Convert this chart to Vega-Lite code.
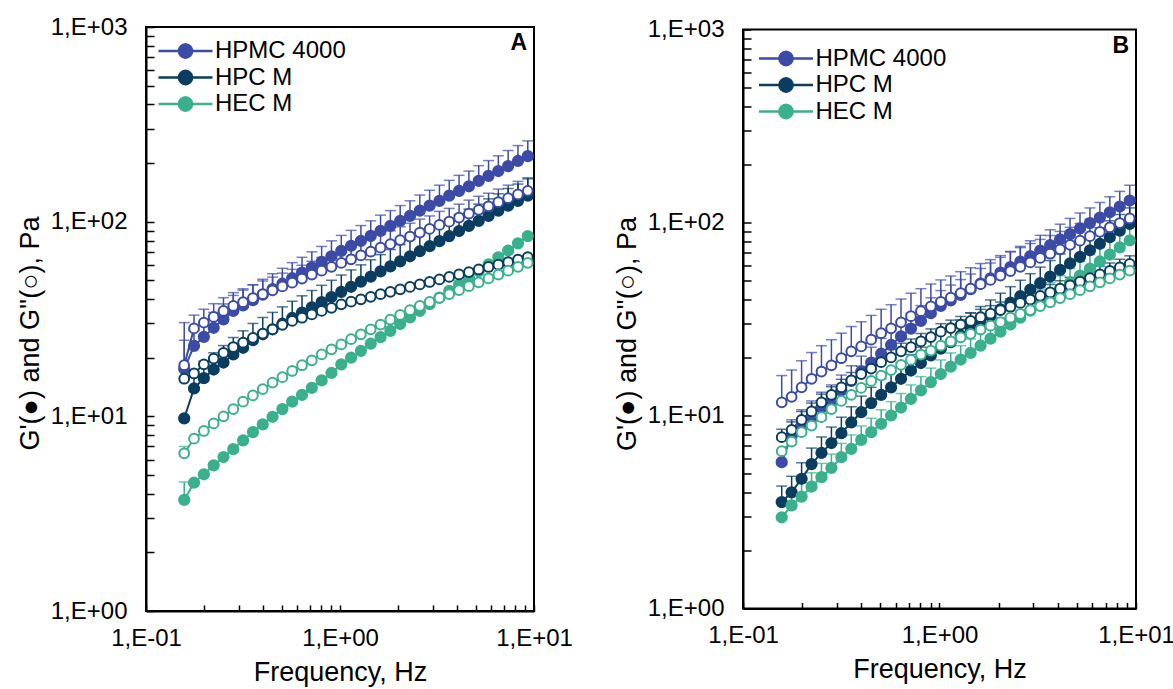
{
"$schema":"https://vega.github.io/schema/vega-lite/v6.json",
"background":"white",
"padding":{"left":15,"top":14,"right":2,"bottom":2},
"bounds":"flush",
"center":true,
"spacing":209,
"config":{"font":"Liberation Sans","view":{"stroke":"black","strokeWidth":2},
"axis":{"domainColor":"black","domainWidth":2,"tickColor":"black","tickWidth":1.5,"labelColor":"black","titleColor":"black","grid":false,"labelFontSize":24,"titleFontSize":27,"titleFontWeight":"normal","labelFont":"Liberation Sans","titleFont":"Liberation Sans"},
"title":{"font":"Liberation Sans"}},
"datasets":{"d":[
{"p":"A","s":"HPMC 4000","g":"f","f":0.1574,"v":17.5,"e":24.6},
{"p":"A","s":"HPMC 4000","g":"f","f":0.1768,"v":23.0,"e":27.6},
{"p":"A","s":"HPMC 4000","g":"f","f":0.1987,"v":25.6,"e":30.7},
{"p":"A","s":"HPMC 4000","g":"f","f":0.2233,"v":28.5,"e":34.2},
{"p":"A","s":"HPMC 4000","g":"f","f":0.2508,"v":31.5,"e":37.8},
{"p":"A","s":"HPMC 4000","g":"f","f":0.2818,"v":34.8,"e":41.8},
{"p":"A","s":"HPMC 4000","g":"f","f":0.3166,"v":37.1,"e":44.5},
{"p":"A","s":"HPMC 4000","g":"f","f":0.3557,"v":39.5,"e":47.4},
{"p":"A","s":"HPMC 4000","g":"f","f":0.3997,"v":42.2,"e":50.6},
{"p":"A","s":"HPMC 4000","g":"f","f":0.4491,"v":45.0,"e":54.0},
{"p":"A","s":"HPMC 4000","g":"f","f":0.5047,"v":48.0,"e":57.6},
{"p":"A","s":"HPMC 4000","g":"f","f":0.567,"v":51.3,"e":61.6},
{"p":"A","s":"HPMC 4000","g":"f","f":0.6371,"v":54.7,"e":65.6},
{"p":"A","s":"HPMC 4000","g":"f","f":0.7158,"v":58.3,"e":70.0},
{"p":"A","s":"HPMC 4000","g":"f","f":0.8043,"v":62.2,"e":74.6},
{"p":"A","s":"HPMC 4000","g":"f","f":0.9036,"v":66.4,"e":79.7},
{"p":"A","s":"HPMC 4000","g":"f","f":1.0153,"v":70.8,"e":85.0},
{"p":"A","s":"HPMC 4000","g":"f","f":1.1408,"v":75.2,"e":90.2},
{"p":"A","s":"HPMC 4000","g":"f","f":1.2817,"v":79.6,"e":95.5},
{"p":"A","s":"HPMC 4000","g":"f","f":1.4401,"v":84.5,"e":101},
{"p":"A","s":"HPMC 4000","g":"f","f":1.6181,"v":89.7,"e":108},
{"p":"A","s":"HPMC 4000","g":"f","f":1.818,"v":95.1,"e":114},
{"p":"A","s":"HPMC 4000","g":"f","f":2.0427,"v":101,"e":121},
{"p":"A","s":"HPMC 4000","g":"f","f":2.2951,"v":107,"e":128},
{"p":"A","s":"HPMC 4000","g":"f","f":2.5787,"v":114,"e":137},
{"p":"A","s":"HPMC 4000","g":"f","f":2.8973,"v":121,"e":145},
{"p":"A","s":"HPMC 4000","g":"f","f":3.2554,"v":128,"e":154},
{"p":"A","s":"HPMC 4000","g":"f","f":3.6576,"v":136,"e":163},
{"p":"A","s":"HPMC 4000","g":"f","f":4.1096,"v":144,"e":173},
{"p":"A","s":"HPMC 4000","g":"f","f":4.6174,"v":152,"e":182},
{"p":"A","s":"HPMC 4000","g":"f","f":5.188,"v":162,"e":194},
{"p":"A","s":"HPMC 4000","g":"f","f":5.8291,"v":172,"e":206},
{"p":"A","s":"HPMC 4000","g":"f","f":6.5494,"v":182,"e":218},
{"p":"A","s":"HPMC 4000","g":"f","f":7.3587,"v":193,"e":232},
{"p":"A","s":"HPMC 4000","g":"f","f":8.2681,"v":205,"e":246},
{"p":"A","s":"HPMC 4000","g":"f","f":9.2897,"v":217,"e":260},
{"p":"A","s":"HPMC 4000","g":"o","f":0.1574,"v":18.3,"e":30.3},
{"p":"A","s":"HPMC 4000","g":"o","f":0.1768,"v":28.3,"e":33.1},
{"p":"A","s":"HPMC 4000","g":"o","f":0.1987,"v":30.3,"e":35.5},
{"p":"A","s":"HPMC 4000","g":"o","f":0.2233,"v":32.4,"e":37.9},
{"p":"A","s":"HPMC 4000","g":"o","f":0.2508,"v":34.8,"e":40.7},
{"p":"A","s":"HPMC 4000","g":"o","f":0.2818,"v":36.9,"e":43.2},
{"p":"A","s":"HPMC 4000","g":"o","f":0.3166,"v":38.6,"e":45.2},
{"p":"A","s":"HPMC 4000","g":"o","f":0.3557,"v":40.5,"e":47.4},
{"p":"A","s":"HPMC 4000","g":"o","f":0.3997,"v":42.4,"e":49.6},
{"p":"A","s":"HPMC 4000","g":"o","f":0.4491,"v":44.4,"e":51.9},
{"p":"A","s":"HPMC 4000","g":"o","f":0.5047,"v":46.5,"e":54.4},
{"p":"A","s":"HPMC 4000","g":"o","f":0.567,"v":48.6,"e":56.9},
{"p":"A","s":"HPMC 4000","g":"o","f":0.6371,"v":51.0,"e":59.7},
{"p":"A","s":"HPMC 4000","g":"o","f":0.7158,"v":53.5,"e":62.6},
{"p":"A","s":"HPMC 4000","g":"o","f":0.8043,"v":56.0,"e":65.5},
{"p":"A","s":"HPMC 4000","g":"o","f":0.9036,"v":58.6,"e":68.6},
{"p":"A","s":"HPMC 4000","g":"o","f":1.0153,"v":61.4,"e":71.8},
{"p":"A","s":"HPMC 4000","g":"o","f":1.1408,"v":64.1,"e":75.0},
{"p":"A","s":"HPMC 4000","g":"o","f":1.2817,"v":67.1,"e":78.5},
{"p":"A","s":"HPMC 4000","g":"o","f":1.4401,"v":70.1,"e":82.0},
{"p":"A","s":"HPMC 4000","g":"o","f":1.6181,"v":73.5,"e":86.0},
{"p":"A","s":"HPMC 4000","g":"o","f":1.818,"v":76.7,"e":89.7},
{"p":"A","s":"HPMC 4000","g":"o","f":2.0427,"v":80.4,"e":94.1},
{"p":"A","s":"HPMC 4000","g":"o","f":2.2951,"v":83.9,"e":98.2},
{"p":"A","s":"HPMC 4000","g":"o","f":2.5787,"v":87.9,"e":103},
{"p":"A","s":"HPMC 4000","g":"o","f":2.8973,"v":91.8,"e":107},
{"p":"A","s":"HPMC 4000","g":"o","f":3.2554,"v":96.2,"e":113},
{"p":"A","s":"HPMC 4000","g":"o","f":3.6576,"v":100,"e":117},
{"p":"A","s":"HPMC 4000","g":"o","f":4.1096,"v":105,"e":123},
{"p":"A","s":"HPMC 4000","g":"o","f":4.6174,"v":110,"e":129},
{"p":"A","s":"HPMC 4000","g":"o","f":5.188,"v":115,"e":135},
{"p":"A","s":"HPMC 4000","g":"o","f":5.8291,"v":120,"e":140},
{"p":"A","s":"HPMC 4000","g":"o","f":6.5494,"v":126,"e":147},
{"p":"A","s":"HPMC 4000","g":"o","f":7.3587,"v":132,"e":154},
{"p":"A","s":"HPMC 4000","g":"o","f":8.2681,"v":138,"e":161},
{"p":"A","s":"HPMC 4000","g":"o","f":9.2897,"v":144,"e":168},
{"p":"A","s":"HPC M","g":"f","f":0.1574,"v":9.77},
{"p":"A","s":"HPC M","g":"f","f":0.1768,"v":13.9,"e":17.0},
{"p":"A","s":"HPC M","g":"f","f":0.1987,"v":15.7,"e":19.2},
{"p":"A","s":"HPC M","g":"f","f":0.2233,"v":17.4,"e":21.2},
{"p":"A","s":"HPC M","g":"f","f":0.2508,"v":18.9,"e":23.1},
{"p":"A","s":"HPC M","g":"f","f":0.2818,"v":20.8,"e":25.4},
{"p":"A","s":"HPC M","g":"f","f":0.3166,"v":22.5,"e":27.5},
{"p":"A","s":"HPC M","g":"f","f":0.3557,"v":24.6,"e":30.0},
{"p":"A","s":"HPC M","g":"f","f":0.3997,"v":26.4,"e":32.2},
{"p":"A","s":"HPC M","g":"f","f":0.4491,"v":28.0,"e":34.2},
{"p":"A","s":"HPC M","g":"f","f":0.5047,"v":29.9,"e":36.5},
{"p":"A","s":"HPC M","g":"f","f":0.567,"v":32.0,"e":39.0},
{"p":"A","s":"HPC M","g":"f","f":0.6371,"v":34.1,"e":41.6},
{"p":"A","s":"HPC M","g":"f","f":0.7158,"v":36.3,"e":44.3},
{"p":"A","s":"HPC M","g":"f","f":0.8043,"v":38.6,"e":47.1},
{"p":"A","s":"HPC M","g":"f","f":0.9036,"v":41.0,"e":50.0},
{"p":"A","s":"HPC M","g":"f","f":1.0153,"v":43.6,"e":53.2},
{"p":"A","s":"HPC M","g":"f","f":1.1408,"v":46.3,"e":56.5},
{"p":"A","s":"HPC M","g":"f","f":1.2817,"v":49.2,"e":60.0},
{"p":"A","s":"HPC M","g":"f","f":1.4401,"v":52.2,"e":63.7},
{"p":"A","s":"HPC M","g":"f","f":1.6181,"v":55.5,"e":67.7},
{"p":"A","s":"HPC M","g":"f","f":1.818,"v":58.9,"e":71.9},
{"p":"A","s":"HPC M","g":"f","f":2.0427,"v":62.5,"e":76.3},
{"p":"A","s":"HPC M","g":"f","f":2.2951,"v":66.4,"e":81.0},
{"p":"A","s":"HPC M","g":"f","f":2.5787,"v":70.5,"e":86.0},
{"p":"A","s":"HPC M","g":"f","f":2.8973,"v":74.8,"e":91.3},
{"p":"A","s":"HPC M","g":"f","f":3.2554,"v":79.4,"e":96.9},
{"p":"A","s":"HPC M","g":"f","f":3.6576,"v":84.3,"e":103},
{"p":"A","s":"HPC M","g":"f","f":4.1096,"v":89.5,"e":109},
{"p":"A","s":"HPC M","g":"f","f":4.6174,"v":95.1,"e":116},
{"p":"A","s":"HPC M","g":"f","f":5.188,"v":101,"e":123},
{"p":"A","s":"HPC M","g":"f","f":5.8291,"v":107,"e":131},
{"p":"A","s":"HPC M","g":"f","f":6.5494,"v":114,"e":139},
{"p":"A","s":"HPC M","g":"f","f":7.3587,"v":121,"e":148},
{"p":"A","s":"HPC M","g":"f","f":8.2681,"v":128,"e":156},
{"p":"A","s":"HPC M","g":"f","f":9.2897,"v":136,"e":166},
{"p":"A","s":"HPC M","g":"o","f":0.1574,"v":15.6,"e":18.0},
{"p":"A","s":"HPC M","g":"o","f":0.1768,"v":16.6},
{"p":"A","s":"HPC M","g":"o","f":0.1987,"v":18.5},
{"p":"A","s":"HPC M","g":"o","f":0.2233,"v":19.8},
{"p":"A","s":"HPC M","g":"o","f":0.2508,"v":21.2},
{"p":"A","s":"HPC M","g":"o","f":0.2818,"v":22.7},
{"p":"A","s":"HPC M","g":"o","f":0.3166,"v":23.9},
{"p":"A","s":"HPC M","g":"o","f":0.3557,"v":25.3},
{"p":"A","s":"HPC M","g":"o","f":0.3997,"v":26.6},
{"p":"A","s":"HPC M","g":"o","f":0.4491,"v":28.0},
{"p":"A","s":"HPC M","g":"o","f":0.5047,"v":29.5},
{"p":"A","s":"HPC M","g":"o","f":0.567,"v":30.9},
{"p":"A","s":"HPC M","g":"o","f":0.6371,"v":32.1},
{"p":"A","s":"HPC M","g":"o","f":0.7158,"v":33.4},
{"p":"A","s":"HPC M","g":"o","f":0.8043,"v":34.8},
{"p":"A","s":"HPC M","g":"o","f":0.9036,"v":36.1},
{"p":"A","s":"HPC M","g":"o","f":1.0153,"v":37.6},
{"p":"A","s":"HPC M","g":"o","f":1.1408,"v":38.8},
{"p":"A","s":"HPC M","g":"o","f":1.2817,"v":39.9},
{"p":"A","s":"HPC M","g":"o","f":1.4401,"v":41.1},
{"p":"A","s":"HPC M","g":"o","f":1.6181,"v":42.4},
{"p":"A","s":"HPC M","g":"o","f":1.818,"v":43.6},
{"p":"A","s":"HPC M","g":"o","f":2.0427,"v":44.9},
{"p":"A","s":"HPC M","g":"o","f":2.2951,"v":46.2},
{"p":"A","s":"HPC M","g":"o","f":2.5787,"v":47.6},
{"p":"A","s":"HPC M","g":"o","f":2.8973,"v":49.0},
{"p":"A","s":"HPC M","g":"o","f":3.2554,"v":50.5},
{"p":"A","s":"HPC M","g":"o","f":3.6576,"v":52.0},
{"p":"A","s":"HPC M","g":"o","f":4.1096,"v":53.6},
{"p":"A","s":"HPC M","g":"o","f":4.6174,"v":55.1},
{"p":"A","s":"HPC M","g":"o","f":5.188,"v":56.8},
{"p":"A","s":"HPC M","g":"o","f":5.8291,"v":58.5},
{"p":"A","s":"HPC M","g":"o","f":6.5494,"v":60.1},
{"p":"A","s":"HPC M","g":"o","f":7.3587,"v":61.9},
{"p":"A","s":"HPC M","g":"o","f":8.2681,"v":63.8},
{"p":"A","s":"HPC M","g":"o","f":9.2897,"v":65.8},
{"p":"A","s":"HEC M","g":"f","f":0.1574,"v":3.72,"e":4.6},
{"p":"A","s":"HEC M","g":"f","f":0.1768,"v":4.56},
{"p":"A","s":"HEC M","g":"f","f":0.1987,"v":5.04},
{"p":"A","s":"HEC M","g":"f","f":0.2233,"v":5.60},
{"p":"A","s":"HEC M","g":"f","f":0.2508,"v":6.18},
{"p":"A","s":"HEC M","g":"f","f":0.2818,"v":6.78},
{"p":"A","s":"HEC M","g":"f","f":0.3166,"v":7.53},
{"p":"A","s":"HEC M","g":"f","f":0.3557,"v":8.30},
{"p":"A","s":"HEC M","g":"f","f":0.3997,"v":9.10},
{"p":"A","s":"HEC M","g":"f","f":0.4491,"v":9.95},
{"p":"A","s":"HEC M","g":"f","f":0.5047,"v":10.9},
{"p":"A","s":"HEC M","g":"f","f":0.567,"v":11.9},
{"p":"A","s":"HEC M","g":"f","f":0.6371,"v":12.9},
{"p":"A","s":"HEC M","g":"f","f":0.7158,"v":14.0},
{"p":"A","s":"HEC M","g":"f","f":0.8043,"v":15.3},
{"p":"A","s":"HEC M","g":"f","f":0.9036,"v":16.7},
{"p":"A","s":"HEC M","g":"f","f":1.0153,"v":18.5},
{"p":"A","s":"HEC M","g":"f","f":1.1408,"v":20.0},
{"p":"A","s":"HEC M","g":"f","f":1.2817,"v":21.7},
{"p":"A","s":"HEC M","g":"f","f":1.4401,"v":23.6},
{"p":"A","s":"HEC M","g":"f","f":1.6181,"v":25.5},
{"p":"A","s":"HEC M","g":"f","f":1.818,"v":27.5},
{"p":"A","s":"HEC M","g":"f","f":2.0427,"v":29.8},
{"p":"A","s":"HEC M","g":"f","f":2.2951,"v":32.2},
{"p":"A","s":"HEC M","g":"f","f":2.5787,"v":34.8},
{"p":"A","s":"HEC M","g":"f","f":2.8973,"v":37.7},
{"p":"A","s":"HEC M","g":"f","f":3.2554,"v":40.7},
{"p":"A","s":"HEC M","g":"f","f":3.6576,"v":44.1},
{"p":"A","s":"HEC M","g":"f","f":4.1096,"v":47.6},
{"p":"A","s":"HEC M","g":"f","f":4.6174,"v":51.5},
{"p":"A","s":"HEC M","g":"f","f":5.188,"v":55.7},
{"p":"A","s":"HEC M","g":"f","f":5.8291,"v":60.3},
{"p":"A","s":"HEC M","g":"f","f":6.5494,"v":65.5},
{"p":"A","s":"HEC M","g":"f","f":7.3587,"v":71.1},
{"p":"A","s":"HEC M","g":"f","f":8.2681,"v":77.4},
{"p":"A","s":"HEC M","g":"f","f":9.2897,"v":84.3},
{"p":"A","s":"HEC M","g":"o","f":0.1574,"v":6.46,"e":7.0},
{"p":"A","s":"HEC M","g":"o","f":0.1768,"v":7.68},
{"p":"A","s":"HEC M","g":"o","f":0.1987,"v":8.41},
{"p":"A","s":"HEC M","g":"o","f":0.2233,"v":9.2},
{"p":"A","s":"HEC M","g":"o","f":0.2508,"v":10.0},
{"p":"A","s":"HEC M","g":"o","f":0.2818,"v":10.9},
{"p":"A","s":"HEC M","g":"o","f":0.3166,"v":11.9},
{"p":"A","s":"HEC M","g":"o","f":0.3557,"v":12.8},
{"p":"A","s":"HEC M","g":"o","f":0.3997,"v":13.8},
{"p":"A","s":"HEC M","g":"o","f":0.4491,"v":14.9},
{"p":"A","s":"HEC M","g":"o","f":0.5047,"v":15.9},
{"p":"A","s":"HEC M","g":"o","f":0.567,"v":17.1},
{"p":"A","s":"HEC M","g":"o","f":0.6371,"v":18.3},
{"p":"A","s":"HEC M","g":"o","f":0.7158,"v":19.4},
{"p":"A","s":"HEC M","g":"o","f":0.8043,"v":20.8},
{"p":"A","s":"HEC M","g":"o","f":0.9036,"v":22.1},
{"p":"A","s":"HEC M","g":"o","f":1.0153,"v":23.4},
{"p":"A","s":"HEC M","g":"o","f":1.1408,"v":24.9},
{"p":"A","s":"HEC M","g":"o","f":1.2817,"v":26.4},
{"p":"A","s":"HEC M","g":"o","f":1.4401,"v":28.0},
{"p":"A","s":"HEC M","g":"o","f":1.6181,"v":29.6},
{"p":"A","s":"HEC M","g":"o","f":1.818,"v":31.4},
{"p":"A","s":"HEC M","g":"o","f":2.0427,"v":33.2},
{"p":"A","s":"HEC M","g":"o","f":2.2951,"v":35.1},
{"p":"A","s":"HEC M","g":"o","f":2.5787,"v":36.9},
{"p":"A","s":"HEC M","g":"o","f":2.8973,"v":38.7},
{"p":"A","s":"HEC M","g":"o","f":3.2554,"v":40.6},
{"p":"A","s":"HEC M","g":"o","f":3.6576,"v":42.5},
{"p":"A","s":"HEC M","g":"o","f":4.1096,"v":44.5},
{"p":"A","s":"HEC M","g":"o","f":4.6174,"v":46.6},
{"p":"A","s":"HEC M","g":"o","f":5.188,"v":48.8},
{"p":"A","s":"HEC M","g":"o","f":5.8291,"v":51.1},
{"p":"A","s":"HEC M","g":"o","f":6.5494,"v":53.5},
{"p":"A","s":"HEC M","g":"o","f":7.3587,"v":56.0},
{"p":"A","s":"HEC M","g":"o","f":8.2681,"v":58.6},
{"p":"A","s":"HEC M","g":"o","f":9.2897,"v":61.5},
{"p":"B","s":"HPMC 4000","g":"f","f":0.1574,"v":5.73},
{"p":"B","s":"HPMC 4000","g":"f","f":0.1768,"v":7.9,"e":9.5},
{"p":"B","s":"HPMC 4000","g":"f","f":0.1987,"v":8.9,"e":10.7},
{"p":"B","s":"HPMC 4000","g":"f","f":0.2233,"v":9.9,"e":11.9},
{"p":"B","s":"HPMC 4000","g":"f","f":0.2508,"v":11.0,"e":13.2},
{"p":"B","s":"HPMC 4000","g":"f","f":0.2818,"v":12.0,"e":14.4},
{"p":"B","s":"HPMC 4000","g":"f","f":0.3166,"v":13.5,"e":16.2},
{"p":"B","s":"HPMC 4000","g":"f","f":0.3557,"v":15.1,"e":18.1},
{"p":"B","s":"HPMC 4000","g":"f","f":0.3997,"v":16.9,"e":20.3},
{"p":"B","s":"HPMC 4000","g":"f","f":0.4491,"v":18.8,"e":22.6},
{"p":"B","s":"HPMC 4000","g":"f","f":0.5047,"v":20.9,"e":25.1},
{"p":"B","s":"HPMC 4000","g":"f","f":0.567,"v":23.2,"e":27.8},
{"p":"B","s":"HPMC 4000","g":"f","f":0.6371,"v":25.7,"e":30.8},
{"p":"B","s":"HPMC 4000","g":"f","f":0.7158,"v":28.2,"e":33.8},
{"p":"B","s":"HPMC 4000","g":"f","f":0.8043,"v":30.9,"e":37.1},
{"p":"B","s":"HPMC 4000","g":"f","f":0.9036,"v":33.9,"e":40.7},
{"p":"B","s":"HPMC 4000","g":"f","f":1.0153,"v":37.0,"e":44.4},
{"p":"B","s":"HPMC 4000","g":"f","f":1.1408,"v":39.5,"e":47.4},
{"p":"B","s":"HPMC 4000","g":"f","f":1.2817,"v":42.2,"e":50.6},
{"p":"B","s":"HPMC 4000","g":"f","f":1.4401,"v":45.1,"e":54.1},
{"p":"B","s":"HPMC 4000","g":"f","f":1.6181,"v":48.2,"e":57.8},
{"p":"B","s":"HPMC 4000","g":"f","f":1.818,"v":51.4,"e":61.7},
{"p":"B","s":"HPMC 4000","g":"f","f":2.0427,"v":55.0,"e":66.0},
{"p":"B","s":"HPMC 4000","g":"f","f":2.2951,"v":58.7,"e":70.4},
{"p":"B","s":"HPMC 4000","g":"f","f":2.5787,"v":62.7,"e":75.2},
{"p":"B","s":"HPMC 4000","g":"f","f":2.8973,"v":67.0,"e":80.4},
{"p":"B","s":"HPMC 4000","g":"f","f":3.2554,"v":71.5,"e":85.8},
{"p":"B","s":"HPMC 4000","g":"f","f":3.6576,"v":76.4,"e":91.7},
{"p":"B","s":"HPMC 4000","g":"f","f":4.1096,"v":81.7,"e":98.0},
{"p":"B","s":"HPMC 4000","g":"f","f":4.6174,"v":87.1,"e":105},
{"p":"B","s":"HPMC 4000","g":"f","f":5.188,"v":93.1,"e":112},
{"p":"B","s":"HPMC 4000","g":"f","f":5.8291,"v":99.3,"e":119},
{"p":"B","s":"HPMC 4000","g":"f","f":6.5494,"v":106,"e":127},
{"p":"B","s":"HPMC 4000","g":"f","f":7.3587,"v":113,"e":136},
{"p":"B","s":"HPMC 4000","g":"f","f":8.2681,"v":121,"e":145},
{"p":"B","s":"HPMC 4000","g":"f","f":9.2897,"v":130,"e":156},
{"p":"B","s":"HPMC 4000","g":"o","f":0.1574,"v":11.7,"e":16.1},
{"p":"B","s":"HPMC 4000","g":"o","f":0.1768,"v":12.5,"e":17.2},
{"p":"B","s":"HPMC 4000","g":"o","f":0.1987,"v":14.0,"e":19.2},
{"p":"B","s":"HPMC 4000","g":"o","f":0.2233,"v":15.5,"e":21.2},
{"p":"B","s":"HPMC 4000","g":"o","f":0.2508,"v":16.9,"e":23.0},
{"p":"B","s":"HPMC 4000","g":"o","f":0.2818,"v":18.2,"e":24.7},
{"p":"B","s":"HPMC 4000","g":"o","f":0.3166,"v":19.8,"e":26.7},
{"p":"B","s":"HPMC 4000","g":"o","f":0.3557,"v":21.5,"e":28.9},
{"p":"B","s":"HPMC 4000","g":"o","f":0.3997,"v":22.8,"e":30.6},
{"p":"B","s":"HPMC 4000","g":"o","f":0.4491,"v":24.7,"e":33.0},
{"p":"B","s":"HPMC 4000","g":"o","f":0.5047,"v":26.7,"e":35.5},
{"p":"B","s":"HPMC 4000","g":"o","f":0.567,"v":28.3,"e":37.5},
{"p":"B","s":"HPMC 4000","g":"o","f":0.6371,"v":30.4,"e":40.1},
{"p":"B","s":"HPMC 4000","g":"o","f":0.7158,"v":32.7,"e":43.0},
{"p":"B","s":"HPMC 4000","g":"o","f":0.8043,"v":34.7,"e":45.4},
{"p":"B","s":"HPMC 4000","g":"o","f":0.9036,"v":36.8,"e":48.0},
{"p":"B","s":"HPMC 4000","g":"o","f":1.0153,"v":38.8,"e":50.4},
{"p":"B","s":"HPMC 4000","g":"o","f":1.1408,"v":40.8,"e":52.8},
{"p":"B","s":"HPMC 4000","g":"o","f":1.2817,"v":43.1,"e":55.6},
{"p":"B","s":"HPMC 4000","g":"o","f":1.4401,"v":45.4,"e":58.3},
{"p":"B","s":"HPMC 4000","g":"o","f":1.6181,"v":47.9,"e":61.3},
{"p":"B","s":"HPMC 4000","g":"o","f":1.818,"v":50.4,"e":64.2},
{"p":"B","s":"HPMC 4000","g":"o","f":2.0427,"v":53.1,"e":67.4},
{"p":"B","s":"HPMC 4000","g":"o","f":2.2951,"v":56.0,"e":70.8},
{"p":"B","s":"HPMC 4000","g":"o","f":2.5787,"v":58.9,"e":74.1},
{"p":"B","s":"HPMC 4000","g":"o","f":2.8973,"v":62.1,"e":77.8},
{"p":"B","s":"HPMC 4000","g":"o","f":3.2554,"v":65.5,"e":81.7},
{"p":"B","s":"HPMC 4000","g":"o","f":3.6576,"v":68.9,"e":85.6},
{"p":"B","s":"HPMC 4000","g":"o","f":4.1096,"v":72.6,"e":89.9},
{"p":"B","s":"HPMC 4000","g":"o","f":4.6174,"v":76.6,"e":94.4},
{"p":"B","s":"HPMC 4000","g":"o","f":5.188,"v":80.5,"e":98.9},
{"p":"B","s":"HPMC 4000","g":"o","f":5.8291,"v":84.9,"e":104},
{"p":"B","s":"HPMC 4000","g":"o","f":6.5494,"v":89.5,"e":109},
{"p":"B","s":"HPMC 4000","g":"o","f":7.3587,"v":94.4,"e":115},
{"p":"B","s":"HPMC 4000","g":"o","f":8.2681,"v":99.3,"e":120},
{"p":"B","s":"HPMC 4000","g":"o","f":9.2897,"v":105,"e":126},
{"p":"B","s":"HPC M","g":"f","f":0.1574,"v":3.56,"e":4.31},
{"p":"B","s":"HPC M","g":"f","f":0.1768,"v":4.0,"e":4.84},
{"p":"B","s":"HPC M","g":"f","f":0.1987,"v":4.7,"e":5.69},
{"p":"B","s":"HPC M","g":"f","f":0.2233,"v":5.6,"e":6.78},
{"p":"B","s":"HPC M","g":"f","f":0.2508,"v":6.4,"e":7.74},
{"p":"B","s":"HPC M","g":"f","f":0.2818,"v":7.2,"e":8.71},
{"p":"B","s":"HPC M","g":"f","f":0.3166,"v":8.1,"e":9.80},
{"p":"B","s":"HPC M","g":"f","f":0.3557,"v":9.2,"e":11.1},
{"p":"B","s":"HPC M","g":"f","f":0.3997,"v":10.4,"e":12.6},
{"p":"B","s":"HPC M","g":"f","f":0.4491,"v":11.6,"e":14.0},
{"p":"B","s":"HPC M","g":"f","f":0.5047,"v":12.8,"e":15.5},
{"p":"B","s":"HPC M","g":"f","f":0.567,"v":14.0,"e":16.9},
{"p":"B","s":"HPC M","g":"f","f":0.6371,"v":15.5,"e":18.8},
{"p":"B","s":"HPC M","g":"f","f":0.7158,"v":17.1,"e":20.7},
{"p":"B","s":"HPC M","g":"f","f":0.8043,"v":18.7,"e":22.6},
{"p":"B","s":"HPC M","g":"f","f":0.9036,"v":20.5,"e":24.8},
{"p":"B","s":"HPC M","g":"f","f":1.0153,"v":22.2,"e":26.9},
{"p":"B","s":"HPC M","g":"f","f":1.1408,"v":24.0,"e":29.0},
{"p":"B","s":"HPC M","g":"f","f":1.2817,"v":25.9,"e":31.3},
{"p":"B","s":"HPC M","g":"f","f":1.4401,"v":28.1,"e":34.0},
{"p":"B","s":"HPC M","g":"f","f":1.6181,"v":30.3,"e":36.7},
{"p":"B","s":"HPC M","g":"f","f":1.818,"v":32.8,"e":39.7},
{"p":"B","s":"HPC M","g":"f","f":2.0427,"v":35.5,"e":43.0},
{"p":"B","s":"HPC M","g":"f","f":2.2951,"v":38.4,"e":46.5},
{"p":"B","s":"HPC M","g":"f","f":2.5787,"v":41.5,"e":50.2},
{"p":"B","s":"HPC M","g":"f","f":2.8973,"v":44.9,"e":54.3},
{"p":"B","s":"HPC M","g":"f","f":3.2554,"v":48.5,"e":58.7},
{"p":"B","s":"HPC M","g":"f","f":3.6576,"v":52.5,"e":63.5},
{"p":"B","s":"HPC M","g":"f","f":4.1096,"v":56.8,"e":68.7},
{"p":"B","s":"HPC M","g":"f","f":4.6174,"v":61.4,"e":74.3},
{"p":"B","s":"HPC M","g":"f","f":5.188,"v":66.4,"e":80.3},
{"p":"B","s":"HPC M","g":"f","f":5.8291,"v":71.8,"e":86.9},
{"p":"B","s":"HPC M","g":"f","f":6.5494,"v":77.6,"e":93.9},
{"p":"B","s":"HPC M","g":"f","f":7.3587,"v":83.9,"e":102},
{"p":"B","s":"HPC M","g":"f","f":8.2681,"v":90.8,"e":110},
{"p":"B","s":"HPC M","g":"f","f":9.2897,"v":98.4,"e":119},
{"p":"B","s":"HPC M","g":"o","f":0.1574,"v":7.72,"e":8.49},
{"p":"B","s":"HPC M","g":"o","f":0.1768,"v":8.43,"e":9.27},
{"p":"B","s":"HPC M","g":"o","f":0.1987,"v":9.5,"e":10.5},
{"p":"B","s":"HPC M","g":"o","f":0.2233,"v":10.5,"e":11.6},
{"p":"B","s":"HPC M","g":"o","f":0.2508,"v":11.7,"e":12.9},
{"p":"B","s":"HPC M","g":"o","f":0.2818,"v":12.8,"e":14.1},
{"p":"B","s":"HPC M","g":"o","f":0.3166,"v":14.0,"e":15.4},
{"p":"B","s":"HPC M","g":"o","f":0.3557,"v":15.2,"e":16.7},
{"p":"B","s":"HPC M","g":"o","f":0.3997,"v":16.4,"e":18.0},
{"p":"B","s":"HPC M","g":"o","f":0.4491,"v":17.5,"e":19.3},
{"p":"B","s":"HPC M","g":"o","f":0.5047,"v":18.9,"e":20.8},
{"p":"B","s":"HPC M","g":"o","f":0.567,"v":20.0,"e":22.0},
{"p":"B","s":"HPC M","g":"o","f":0.6371,"v":21.5,"e":23.7},
{"p":"B","s":"HPC M","g":"o","f":0.7158,"v":22.6,"e":24.9},
{"p":"B","s":"HPC M","g":"o","f":0.8043,"v":24.2,"e":26.6},
{"p":"B","s":"HPC M","g":"o","f":0.9036,"v":25.5,"e":28.1},
{"p":"B","s":"HPC M","g":"o","f":1.0153,"v":27.2,"e":29.9},
{"p":"B","s":"HPC M","g":"o","f":1.1408,"v":28.4,"e":31.2},
{"p":"B","s":"HPC M","g":"o","f":1.2817,"v":29.6,"e":32.6},
{"p":"B","s":"HPC M","g":"o","f":1.4401,"v":30.9,"e":34.0},
{"p":"B","s":"HPC M","g":"o","f":1.6181,"v":32.3,"e":35.5},
{"p":"B","s":"HPC M","g":"o","f":1.818,"v":33.7,"e":37.1},
{"p":"B","s":"HPC M","g":"o","f":2.0427,"v":35.2,"e":38.7},
{"p":"B","s":"HPC M","g":"o","f":2.2951,"v":36.6,"e":40.3},
{"p":"B","s":"HPC M","g":"o","f":2.5787,"v":38.3,"e":42.1},
{"p":"B","s":"HPC M","g":"o","f":2.8973,"v":39.9,"e":43.9},
{"p":"B","s":"HPC M","g":"o","f":3.2554,"v":41.7,"e":45.9},
{"p":"B","s":"HPC M","g":"o","f":3.6576,"v":43.4,"e":47.7},
{"p":"B","s":"HPC M","g":"o","f":4.1096,"v":45.4,"e":49.9},
{"p":"B","s":"HPC M","g":"o","f":4.6174,"v":47.3,"e":52.0},
{"p":"B","s":"HPC M","g":"o","f":5.188,"v":49.4,"e":54.3},
{"p":"B","s":"HPC M","g":"o","f":5.8291,"v":51.5,"e":56.7},
{"p":"B","s":"HPC M","g":"o","f":6.5494,"v":53.8,"e":59.2},
{"p":"B","s":"HPC M","g":"o","f":7.3587,"v":56.1,"e":61.7},
{"p":"B","s":"HPC M","g":"o","f":8.2681,"v":58.6,"e":64.5},
{"p":"B","s":"HPC M","g":"o","f":9.2897,"v":61.1,"e":67.2},
{"p":"B","s":"HEC M","g":"f","f":0.1574,"v":2.97},
{"p":"B","s":"HEC M","g":"f","f":0.1768,"v":3.42,"e":4.04},
{"p":"B","s":"HEC M","g":"f","f":0.1987,"v":3.80,"e":4.48},
{"p":"B","s":"HEC M","g":"f","f":0.2233,"v":4.28,"e":5.05},
{"p":"B","s":"HEC M","g":"f","f":0.2508,"v":4.79,"e":5.65},
{"p":"B","s":"HEC M","g":"f","f":0.2818,"v":5.35,"e":6.31},
{"p":"B","s":"HEC M","g":"f","f":0.3166,"v":6.08,"e":7.17},
{"p":"B","s":"HEC M","g":"f","f":0.3557,"v":6.72,"e":7.93},
{"p":"B","s":"HEC M","g":"f","f":0.3997,"v":7.48,"e":8.83},
{"p":"B","s":"HEC M","g":"f","f":0.4491,"v":8.2,"e":9.68},
{"p":"B","s":"HEC M","g":"f","f":0.5047,"v":9.06,"e":10.7},
{"p":"B","s":"HEC M","g":"f","f":0.567,"v":10.0,"e":11.8},
{"p":"B","s":"HEC M","g":"f","f":0.6371,"v":11.0,"e":13.0},
{"p":"B","s":"HEC M","g":"f","f":0.7158,"v":12.2,"e":14.4},
{"p":"B","s":"HEC M","g":"f","f":0.8043,"v":13.5,"e":15.9},
{"p":"B","s":"HEC M","g":"f","f":0.9036,"v":14.9,"e":17.6},
{"p":"B","s":"HEC M","g":"f","f":1.0153,"v":16.4,"e":19.4},
{"p":"B","s":"HEC M","g":"f","f":1.1408,"v":17.9,"e":21.1},
{"p":"B","s":"HEC M","g":"f","f":1.2817,"v":19.5,"e":23.0},
{"p":"B","s":"HEC M","g":"f","f":1.4401,"v":21.1,"e":24.9},
{"p":"B","s":"HEC M","g":"f","f":1.6181,"v":23.0,"e":27.1},
{"p":"B","s":"HEC M","g":"f","f":1.818,"v":25.0,"e":29.5},
{"p":"B","s":"HEC M","g":"f","f":2.0427,"v":27.2,"e":32.1},
{"p":"B","s":"HEC M","g":"f","f":2.2951,"v":29.6,"e":34.9},
{"p":"B","s":"HEC M","g":"f","f":2.5787,"v":32.1,"e":37.9},
{"p":"B","s":"HEC M","g":"f","f":2.8973,"v":34.9,"e":41.2},
{"p":"B","s":"HEC M","g":"f","f":3.2554,"v":38.0,"e":44.8},
{"p":"B","s":"HEC M","g":"f","f":3.6576,"v":41.3,"e":48.7},
{"p":"B","s":"HEC M","g":"f","f":4.1096,"v":44.9,"e":53.0},
{"p":"B","s":"HEC M","g":"f","f":4.6174,"v":48.9,"e":57.7},
{"p":"B","s":"HEC M","g":"f","f":5.188,"v":53.1,"e":62.7},
{"p":"B","s":"HEC M","g":"f","f":5.8291,"v":57.7,"e":68.1},
{"p":"B","s":"HEC M","g":"f","f":6.5494,"v":62.8,"e":74.1},
{"p":"B","s":"HEC M","g":"f","f":7.3587,"v":68.2,"e":80.5},
{"p":"B","s":"HEC M","g":"f","f":8.2681,"v":74.3,"e":87.7},
{"p":"B","s":"HEC M","g":"f","f":9.2897,"v":80.7,"e":95.2},
{"p":"B","s":"HEC M","g":"o","f":0.1574,"v":6.53},
{"p":"B","s":"HEC M","g":"o","f":0.1768,"v":7.33},
{"p":"B","s":"HEC M","g":"o","f":0.1987,"v":8.2},
{"p":"B","s":"HEC M","g":"o","f":0.2233,"v":8.87},
{"p":"B","s":"HEC M","g":"o","f":0.2508,"v":9.8},
{"p":"B","s":"HEC M","g":"o","f":0.2818,"v":10.8},
{"p":"B","s":"HEC M","g":"o","f":0.3166,"v":11.9},
{"p":"B","s":"HEC M","g":"o","f":0.3557,"v":12.8},
{"p":"B","s":"HEC M","g":"o","f":0.3997,"v":13.9},
{"p":"B","s":"HEC M","g":"o","f":0.4491,"v":15.1},
{"p":"B","s":"HEC M","g":"o","f":0.5047,"v":16.1},
{"p":"B","s":"HEC M","g":"o","f":0.567,"v":17.2},
{"p":"B","s":"HEC M","g":"o","f":0.6371,"v":18.3},
{"p":"B","s":"HEC M","g":"o","f":0.7158,"v":19.4},
{"p":"B","s":"HEC M","g":"o","f":0.8043,"v":20.7},
{"p":"B","s":"HEC M","g":"o","f":0.9036,"v":21.7},
{"p":"B","s":"HEC M","g":"o","f":1.0153,"v":23.0},
{"p":"B","s":"HEC M","g":"o","f":1.1408,"v":24.2},
{"p":"B","s":"HEC M","g":"o","f":1.2817,"v":25.4},
{"p":"B","s":"HEC M","g":"o","f":1.4401,"v":26.5},
{"p":"B","s":"HEC M","g":"o","f":1.6181,"v":27.9},
{"p":"B","s":"HEC M","g":"o","f":1.818,"v":29.2},
{"p":"B","s":"HEC M","g":"o","f":2.0427,"v":30.5},
{"p":"B","s":"HEC M","g":"o","f":2.2951,"v":32.1},
{"p":"B","s":"HEC M","g":"o","f":2.5787,"v":33.6},
{"p":"B","s":"HEC M","g":"o","f":2.8973,"v":35.2},
{"p":"B","s":"HEC M","g":"o","f":3.2554,"v":36.9},
{"p":"B","s":"HEC M","g":"o","f":3.6576,"v":38.6},
{"p":"B","s":"HEC M","g":"o","f":4.1096,"v":40.6},
{"p":"B","s":"HEC M","g":"o","f":4.6174,"v":42.5},
{"p":"B","s":"HEC M","g":"o","f":5.188,"v":44.6},
{"p":"B","s":"HEC M","g":"o","f":5.8291,"v":46.7},
{"p":"B","s":"HEC M","g":"o","f":6.5494,"v":49.0},
{"p":"B","s":"HEC M","g":"o","f":7.3587,"v":51.3},
{"p":"B","s":"HEC M","g":"o","f":8.2681,"v":53.7},
{"p":"B","s":"HEC M","g":"o","f":9.2897,"v":56.4}
]},
"hconcat":[
{"width":388,"height":584,
"title":{"text":"A","anchor":"end","frame":"group","offset":-40,"dx":-7,"fontSize":23,"fontWeight":"bold","color":"black"},
"data":{"name":"d"},
"transform":[{"filter":"datum.p=='A'"}],
"encoding":{"x":{"field":"f","type":"quantitative","title":"Frequency, Hz","scale":{"type":"log","domain":[0.1,10],"nice":false},"axis":{"values":[0.1,0.2,0.3,0.4,0.5,0.6,0.7,0.8,0.9,1,2,3,4,5,6,7,8,9,10],"labelExpr":"datum.value==0.1?'1,E-01':datum.value==1?'1,E+00':datum.value==10?'1,E+01':''","tickSize":-6,"labelPadding":21,"labelOverlap":false,"labelFlush":false,"titlePadding":9}}},
"layer":[
{"transform":[{"filter":"isValid(datum.e)"}],"mark":{"type":"rule","strokeWidth":1.5},"encoding":{"y":{"field":"v","type":"quantitative","title":"G'(●) and G''(○), Pa","scale":{"type":"log","domain":[1,1000],"nice":false},"axis":{"values":[1,2,3,4,5,6,7,8,9,10,20,30,40,50,60,70,80,90,100,200,300,400,500,600,700,800,900,1000],"labelExpr":"datum.value==1?'1,E+00':datum.value==10?'1,E+01':datum.value==100?'1,E+02':datum.value==1000?'1,E+03':''","tickSize":-8,"labelPadding":27,"labelOverlap":false,"titlePadding":6,"titleY":306}},"y2":{"field":"e"},"color":{"field":"s","type":"nominal","scale":{"domain":["HEC M","HPC M","HPMC 4000"],"range":["#3AB08C","#0A3D5F","#3B4BA6"]},"legend":null}}},
{"transform":[{"filter":"isValid(datum.e)"}],"mark":{"type":"tick","orient":"horizontal","size":11,"thickness":1.5},"encoding":{"y":{"field":"e","type":"quantitative","title":"G'(●) and G''(○), Pa"},"color":{"field":"s","type":"nominal","legend":null}}},
{"mark":{"type":"line","strokeWidth":2},"encoding":{"y":{"field":"v","type":"quantitative","title":"G'(●) and G''(○), Pa"},"color":{"field":"s","type":"nominal","legend":null},"detail":{"field":"g"}}},
{"transform":[{"filter":"datum.g=='f'"}],"mark":{"type":"point","filled":true,"size":105,"strokeWidth":2,"opacity":1},"encoding":{"y":{"field":"v","type":"quantitative","title":"G'(●) and G''(○), Pa"},
"fill":{"field":"s","type":"nominal","scale":{"domain":["HPMC 4000","HPC M","HEC M"],"range":["#3B4BA6","#0A3D5F","#3AB08C"]},"legend":{"orient":"top-left","title":null,"offset":11,"padding":0,"symbolType":"M-1,0L3.696,0M1.922,0L1.878,0.22L1.754,0.406L1.568,0.53L1.348,0.574L1.128,0.53L0.942,0.406L0.818,0.22L0.774,0L0.818,-0.22L0.942,-0.406L1.128,-0.53L1.348,-0.574L1.568,-0.53L1.754,-0.406L1.878,-0.22Z","symbolSize":529,"symbolStrokeWidth":2.5,"labelFontSize":24,"labelOffset":32,"rowPadding":1.5,"labelColor":"black","labelFont":"Liberation Sans","symbolOpacity":1}},
"stroke":{"field":"s","type":"nominal","scale":{"domain":["HPMC 4000","HPC M","HEC M"],"range":["#3B4BA6","#0A3D5F","#3AB08C"]},"legend":{"orient":"top-left","title":null,"offset":11,"padding":0,"symbolType":"M-1,0L3.696,0M1.922,0L1.878,0.22L1.754,0.406L1.568,0.53L1.348,0.574L1.128,0.53L0.942,0.406L0.818,0.22L0.774,0L0.818,-0.22L0.942,-0.406L1.128,-0.53L1.348,-0.574L1.568,-0.53L1.754,-0.406L1.878,-0.22Z","symbolSize":529,"symbolStrokeWidth":2.5,"labelFontSize":24,"labelOffset":32,"rowPadding":1.5,"labelColor":"black","labelFont":"Liberation Sans","symbolOpacity":1}}}},
{"transform":[{"filter":"datum.g=='o'"}],"mark":{"type":"point","filled":false,"fill":"white","size":95,"strokeWidth":2,"opacity":1},"encoding":{"y":{"field":"v","type":"quantitative","title":"G'(●) and G''(○), Pa"},"color":{"field":"s","type":"nominal","legend":null}}}
]},
{"width":393,"height":579,
"title":{"text":"B","anchor":"end","frame":"group","offset":-40,"dx":-7,"fontSize":23,"fontWeight":"bold","color":"black"},
"data":{"name":"d"},
"transform":[{"filter":"datum.p=='B'"}],
"encoding":{"x":{"field":"f","type":"quantitative","title":"Frequency, Hz","scale":{"type":"log","domain":[0.1,10],"nice":false},"axis":{"values":[0.1,0.2,0.3,0.4,0.5,0.6,0.7,0.8,0.9,1,2,3,4,5,6,7,8,9,10],"labelExpr":"datum.value==0.1?'1,E-01':datum.value==1?'1,E+00':datum.value==10?'1,E+01':''","tickSize":-6,"labelPadding":21,"labelOverlap":false,"labelFlush":false,"titlePadding":9}}},
"layer":[
{"transform":[{"filter":"isValid(datum.e)"}],"mark":{"type":"rule","strokeWidth":1.5},"encoding":{"y":{"field":"v","type":"quantitative","title":"G'(●) and G''(○), Pa","scale":{"type":"log","domain":[1,1000],"nice":false},"axis":{"values":[1,2,3,4,5,6,7,8,9,10,20,30,40,50,60,70,80,90,100,200,300,400,500,600,700,800,900,1000],"labelExpr":"datum.value==1?'1,E+00':datum.value==10?'1,E+01':datum.value==100?'1,E+02':datum.value==1000?'1,E+03':''","tickSize":-8,"labelPadding":27,"labelOverlap":false,"titlePadding":6,"titleY":304}},"y2":{"field":"e"},"color":{"field":"s","type":"nominal","scale":{"domain":["HEC M","HPC M","HPMC 4000"],"range":["#3AB08C","#0A3D5F","#3B4BA6"]},"legend":null}}},
{"transform":[{"filter":"isValid(datum.e)"}],"mark":{"type":"tick","orient":"horizontal","size":11,"thickness":1.5},"encoding":{"y":{"field":"e","type":"quantitative","title":"G'(●) and G''(○), Pa"},"color":{"field":"s","type":"nominal","legend":null}}},
{"mark":{"type":"line","strokeWidth":2},"encoding":{"y":{"field":"v","type":"quantitative","title":"G'(●) and G''(○), Pa"},"color":{"field":"s","type":"nominal","legend":null},"detail":{"field":"g"}}},
{"transform":[{"filter":"datum.g=='f'"}],"mark":{"type":"point","filled":true,"size":105,"strokeWidth":2,"opacity":1},"encoding":{"y":{"field":"v","type":"quantitative","title":"G'(●) and G''(○), Pa"},
"fill":{"field":"s","type":"nominal","scale":{"domain":["HPMC 4000","HPC M","HEC M"],"range":["#3B4BA6","#0A3D5F","#3AB08C"]},"legend":{"orient":"top-left","title":null,"offset":16,"padding":0,"symbolType":"M-1.13,0L3.566,0M1.792,0L1.748,0.22L1.624,0.406L1.438,0.53L1.218,0.574L0.998,0.53L0.812,0.406L0.688,0.22L0.644,0L0.688,-0.22L0.812,-0.406L0.998,-0.53L1.218,-0.574L1.438,-0.53L1.624,-0.406L1.748,-0.22Z","symbolSize":529,"symbolStrokeWidth":2.5,"labelFontSize":24,"labelOffset":30.5,"rowPadding":1.5,"labelColor":"black","labelFont":"Liberation Sans","symbolOpacity":1}},
"stroke":{"field":"s","type":"nominal","scale":{"domain":["HPMC 4000","HPC M","HEC M"],"range":["#3B4BA6","#0A3D5F","#3AB08C"]},"legend":{"orient":"top-left","title":null,"offset":16,"padding":0,"symbolType":"M-1.13,0L3.566,0M1.792,0L1.748,0.22L1.624,0.406L1.438,0.53L1.218,0.574L0.998,0.53L0.812,0.406L0.688,0.22L0.644,0L0.688,-0.22L0.812,-0.406L0.998,-0.53L1.218,-0.574L1.438,-0.53L1.624,-0.406L1.748,-0.22Z","symbolSize":529,"symbolStrokeWidth":2.5,"labelFontSize":24,"labelOffset":30.5,"rowPadding":1.5,"labelColor":"black","labelFont":"Liberation Sans","symbolOpacity":1}}}},
{"transform":[{"filter":"datum.g=='o'"}],"mark":{"type":"point","filled":false,"fill":"white","size":95,"strokeWidth":2,"opacity":1},"encoding":{"y":{"field":"v","type":"quantitative","title":"G'(●) and G''(○), Pa"},"color":{"field":"s","type":"nominal","legend":null}}}
]}
],
"resolve":{"scale":{"color":"independent","fill":"independent","stroke":"independent"},"legend":{"color":"independent","fill":"independent","stroke":"independent"}}
}
